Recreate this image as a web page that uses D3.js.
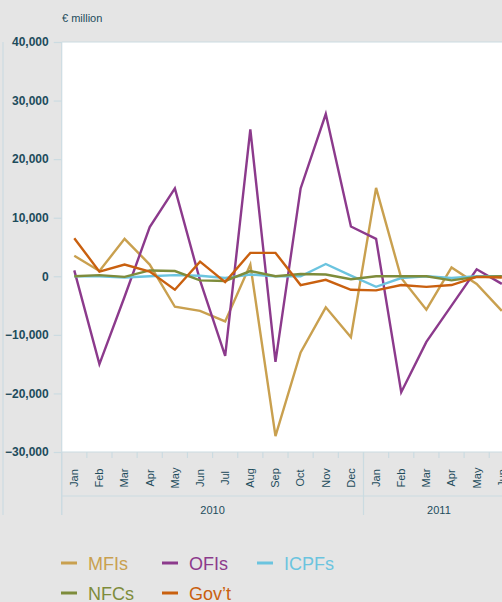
<!DOCTYPE html>
<html>
<head>
<meta charset="utf-8">
<script src="https://cdn.jsdelivr.net/npm/d3@7"></script>
<style>
  html, body { margin: 0; padding: 0; background: #e5e5e5; }
  svg { display: block; font-family: "Liberation Sans", Arial, sans-serif; }
</style>
</head>
<body>
<svg id="chart" width="502" height="602"></svg>
<script>
// ---- data ----
const months = ["Jan","Feb","Mar","Apr","May","Jun","Jul","Aug","Sep","Oct","Nov","Dec",
                "Jan","Feb","Mar","Apr","May","Jun"];
const years = ["2010", "2011"];
const yearMonthCounts = [12, 6];
const yTicks = [40000, 30000, 20000, 10000, 0, -10000, -20000, -30000];

const seriesNames = ["MFIs", "OFIs", "ICPFs", "NFCs", "Gov\u2019t"];
const seriesColors = ["#c9a04f", "#8c3a8c", "#6bc4df", "#7e8c3b", "#c9600f"];

const mfis  = [3500, 900, 6400, 2000, -5200, -5900, -7700, 2000, -27300, -13000, -5300, -10400,
               15100, -300, -5700, 1500, -1300, -5900];
const ofis  = [1000, -15000, -3500, 8400, 15000, -700, -13600, 25100, -14600, 15000, 27700, 8500,
               6400, -19800, -11200, -5000, 1200, -1300];
const icpfs = [0, 0, -200, 0, 200, 100, -300, 300, 0, 0, 2100, 100,
               -1800, -300, 0, -300, 0, 0];
const nfcs  = [0, 200, -100, 1000, 900, -700, -800, 900, 0, 400, 300, -500,
               0, 0, 0, -700, -100, 0];
const govt  = [6500, 800, 2000, 800, -2300, 2500, -1000, 4000, 4000, -1500, -600, -2300,
               -2400, -1500, -1800, -1500, -100, -200];

const seriesValues = [mfis, ofis, icpfs, nfcs, govt];

// ---- layout ----
const svg = d3.select("#chart");
const W = 502, H = 602;
const plotLeft = 61.7, plotTop = 42, plotBottom = 452;
const band = 25.15;
const plotRight = plotLeft + band * months.length;
const axisGrid = "#cbdbe1";
const textColor = "#1d4c5c";

const x = d3.scaleBand().domain(d3.range(months.length)).range([plotLeft, plotRight]).padding(0);
const y = d3.scaleLinear().domain([-30000, 40000]).range([plotBottom, plotTop]);

// plot background
svg.append("rect").attr("x", plotLeft).attr("y", plotTop)
  .attr("width", plotRight - plotLeft).attr("height", plotBottom - plotTop)
  .attr("fill", "#ffffff");

// left outer line
svg.append("line").attr("x1", 3).attr("x2", 3).attr("y1", plotTop).attr("y2", 515)
  .attr("stroke", axisGrid).attr("stroke-width", 1.2);

// title
svg.append("text").attr("x", 62).attr("y", 22).attr("fill", textColor)
  .attr("font-size", 11).text("\u20ac million");

// y axis
const yAxis = d3.axisLeft(y).tickValues(yTicks).tickSize(8).tickPadding(5)
  .tickFormat(d3.format(","));
const gy = svg.append("g").attr("transform", `translate(${plotLeft},0)`).call(yAxis);
gy.select(".domain").attr("stroke", axisGrid).attr("stroke-width", 1.2)
  .attr("d", `M0,${plotTop}V515`);
gy.selectAll(".tick line").attr("stroke", axisGrid).attr("stroke-width", 1.2);
gy.selectAll(".tick text").attr("fill", textColor).attr("font-size", 12)
  .attr("font-weight", "bold").attr("font-family", "Liberation Sans, Arial, sans-serif");

// top border line
svg.append("line").attr("x1", plotLeft).attr("x2", W).attr("y1", y(40000)).attr("y2", y(40000))
  .attr("stroke", axisGrid).attr("stroke-width", 1.2);

// bottom axis frame
svg.append("line").attr("x1", plotLeft).attr("x2", W).attr("y1", plotBottom).attr("y2", plotBottom)
  .attr("stroke", axisGrid).attr("stroke-width", 1.2);
svg.append("line").attr("x1", plotLeft).attr("x2", W).attr("y1", 496).attr("y2", 496)
  .attr("stroke", axisGrid).attr("stroke-width", 1.2);

// month ticks
const gx = svg.append("g");
d3.range(1, months.length).forEach(i => {
  const xx = x(i);
  gx.append("line").attr("x1", xx).attr("x2", xx).attr("y1", plotBottom).attr("y2", plotBottom + 6)
    .attr("stroke", axisGrid).attr("stroke-width", 1.2);
});
// month labels
gx.selectAll("text.month").data(months).join("text")
  .attr("class", "month")
  .attr("transform", (d, i) => `translate(${x(i) + x.bandwidth() / 2},478) rotate(-90)`)
  .attr("text-anchor", "middle").attr("dy", "0.35em")
  .attr("font-size", 11).attr("fill", textColor).text(d => d);

// year dividers and labels
let start = 0;
years.forEach((yr, k) => {
  const x0 = x(start);
  const end = start + yearMonthCounts[k];
  const x1 = end < months.length ? x(end) : plotRight;
  svg.append("line").attr("x1", x0).attr("x2", x0).attr("y1", plotBottom).attr("y2", 515)
    .attr("stroke", axisGrid).attr("stroke-width", 1.2);
  svg.append("text").attr("x", (x0 + x1) / 2).attr("y", 514).attr("text-anchor", "middle")
    .attr("font-size", 11).attr("fill", textColor).text(yr);
  start = end;
});

// lines
const line = d3.line().x((d, i) => x(i) + x.bandwidth() / 2).y(d => y(d));
const drawOrder = [0, 1, 2, 3, 4];
drawOrder.forEach(s => {
  svg.append("path").datum(seriesValues[s])
    .attr("d", line).attr("fill", "none")
    .attr("stroke", seriesColors[s]).attr("stroke-width", 2.4)
    .attr("stroke-linejoin", "miter");
});

// legend
const legendPos = [[61, 563], [162, 563], [257, 563], [61, 593], [162, 593]];
seriesNames.forEach((n, i) => {
  const [lx, ly] = legendPos[i];
  svg.append("line").attr("x1", lx).attr("x2", lx + 16).attr("y1", ly).attr("y2", ly)
    .attr("stroke", seriesColors[i]).attr("stroke-width", 3);
  svg.append("text").attr("x", lx + 27).attr("y", ly + 6.5)
    .attr("font-size", 18).attr("fill", seriesColors[i]).text(n);
});
</script>
</body>
</html>
